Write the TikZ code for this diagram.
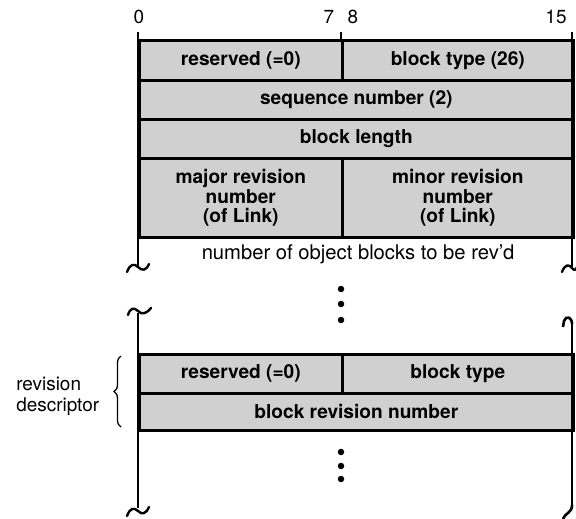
\documentclass[tikz,border=0pt]{standalone}
\usepackage{fontspec}
\setmainfont{TeX Gyre Heros}
\usetikzlibrary{decorations.pathreplacing}
\definecolor{fieldgray}{RGB}{208,208,208}
\begin{document}
\begin{tikzpicture}[x=1bp,y=-1bp,line width=2.6bp,
  field/.style={draw,fill=fieldgray,inner sep=0pt,anchor=north west,align=center,
    font=\fontsize{19.2}{19.5}\selectfont\bfseries},
  plain/.style={inner sep=0pt,font=\fontsize{19}{21}\selectfont},
  wide/.style={inner sep=0pt,font=\fontsize{20.3}{21}\selectfont},
  dotnode/.style={circle,fill=black,inner sep=0pt,minimum size=6.5bp},
  wave/.style={line width=2.4bp,line cap=round}]
\useasboundingbox (0,0) rectangle (576,519);
% bit numbers
\node[plain] (b0) at (139,17) {0};
\node[plain] (b7) at (329,17) {7};
\node[plain] (b8) at (353,17) {8};
\node[plain] (b15) at (556,17) {15};
% section 1 fields
\node[field,minimum width=203bp,minimum height=40bp] (res1) at (138,39) {reserved (=0)};
\node[field,minimum width=231bp,minimum height=40bp] (bt1) at (341,39) {block type (26)};
\node[field,minimum width=434bp,minimum height=39bp] (seq) at (138,79) {sequence number (2)};
\node[field,minimum width=434bp,minimum height=39bp] (blen) at (138,118) {block length};
\node[field,minimum width=203bp,minimum height=79bp] (major) at (138,157) {major revision\\number\\(of Link)};
\node[field,minimum width=231bp,minimum height=79bp] (minor) at (341,157) {minor revision\\number\\(of Link)};
\node[wide] (nobj) at (358,254) {number of object blocks to be rev'd};
% section 1 borders and ticks
\draw (138,32) -- (138,267);
\draw (572,32) -- (572,267);
\draw (341,32) -- (341,39);
\draw[wave] (127,272) .. controls (130,264) and (134,263) .. (138,267) .. controls (142,271) and (146,271) .. (149,264);
\draw[wave] (562,272) .. controls (565,264) and (569,264) .. (572,268) .. controls (574,271) and (576,270) .. (577,267);
% dots between sections
\node[dotnode] (d1) at (341,289) {};
\node[dotnode] (d2) at (341,304) {};
\node[dotnode] (d3) at (341,320) {};
% section 2 fields
\node[field,minimum width=203bp,minimum height=39bp] (res2) at (138,353) {reserved (=0)};
\node[field,minimum width=231bp,minimum height=39bp] (bt2) at (341,353) {block type};
\node[field,minimum width=434bp,minimum height=37bp] (brn) at (138,392) {block revision number};
% section 2 borders
\draw (138,313) -- (138,508);
\draw (572,324) .. controls (572,317) and (566,315) .. (564,321) -- (563,327);
\draw (572,324) -- (572,506);
\draw[wave] (128,315) .. controls (130,308) and (134,307) .. (138,311) .. controls (142,315) and (146,314) .. (151,308);
\draw[wave] (127,516) .. controls (130,508) and (134,507) .. (138,511) .. controls (142,515) and (146,514) .. (149,507);
\draw (572,505) .. controls (572,513) and (566,512) .. (563,519);
% dots inside section 2
\node[dotnode] (e1) at (341,452) {};
\node[dotnode] (e2) at (341,466) {};
\node[dotnode] (e3) at (341,479) {};
% brace and label
\draw[line width=1.3bp,decorate,decoration={brace,amplitude=7bp}] (121,427) -- (121,356);
\node[plain,anchor=west,align=left] (rdesc) at (15,396) {revision\\descriptor};
\end{tikzpicture}
\end{document}
